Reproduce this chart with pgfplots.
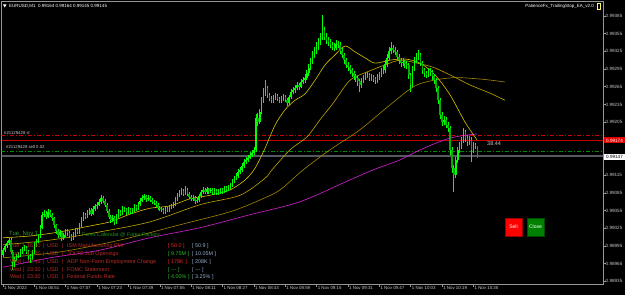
\documentclass[border=0pt]{standalone}
\usepackage{pgfplots}
\pgfplotsset{compat=1.18}
\usepackage{pgfplotstable}
\usepackage{fontspec}
\setmainfont{Liberation Sans}
\definecolor{bull}{RGB}{0,255,0}
\definecolor{bear}{RGB}{0,175,0}
\definecolor{maF}{RGB}{215,195,0}
\definecolor{maM}{RGB}{190,165,0}
\definecolor{maS}{RGB}{160,135,0}
\definecolor{maP}{RGB}{190,30,190}
\definecolor{axgray}{RGB}{150,150,150}
\definecolor{lblgray}{RGB}{200,200,200}
\definecolor{calred}{RGB}{190,45,40}
\definecolor{valred}{RGB}{235,40,40}
\definecolor{valgreen}{RGB}{40,190,40}
\definecolor{valgray}{RGB}{150,170,200}
\definecolor{calgreen}{RGB}{60,150,50}
\definecolor{slred}{RGB}{200,0,0}
\definecolor{opgreen}{RGB}{0,140,0}
\definecolor{bidgray}{RGB}{85,88,95}
\pgfplotstableread{
i o h l c
0 0.98980 0.98992 0.98976 0.98988
1 0.98988 0.98999 0.98985 0.98995
2 0.98995 0.99004 0.98992 0.99000
3 0.99000 0.99009 0.98996 0.99005
4 0.99005 0.99008 0.98981 0.98985
5 0.98985 0.98988 0.98955 0.98968
6 0.98968 0.98976 0.98960 0.98972
7 0.98972 0.98982 0.98969 0.98978
8 0.98978 0.98985 0.98974 0.98980
9 0.98980 0.98990 0.98977 0.98986
10 0.98986 0.98994 0.98982 0.98990
11 0.98990 0.98997 0.98986 0.98992
12 0.98992 0.98995 0.98981 0.98985
13 0.98985 0.98988 0.98972 0.98978
14 0.98978 0.98982 0.98966 0.98975
15 0.98975 0.98988 0.98971 0.98985
16 0.98985 0.99001 0.98982 0.98997
17 0.98997 0.99007 0.98994 0.99003
18 0.99003 0.99016 0.99000 0.99012
19 0.99012 0.99030 0.99009 0.99026
20 0.99026 0.99053 0.99023 0.99048
21 0.99048 0.99056 0.99044 0.99050
22 0.99050 0.99054 0.99041 0.99045
23 0.99045 0.99058 0.99042 0.99053
24 0.99053 0.99056 0.99044 0.99048
25 0.99048 0.99051 0.99038 0.99042
26 0.99042 0.99045 0.99026 0.99030
27 0.99030 0.99033 0.99016 0.99020
28 0.99020 0.99024 0.99008 0.99014
29 0.99014 0.99022 0.99010 0.99018
30 0.99018 0.99021 0.99004 0.99009
31 0.99009 0.99017 0.99005 0.99013
32 0.99013 0.99024 0.99010 0.99020
33 0.99020 0.99024 0.99012 0.99017
34 0.99017 0.99020 0.99008 0.99012
35 0.99012 0.99015 0.99003 0.99009
36 0.99009 0.99018 0.99006 0.99014
37 0.99014 0.99026 0.99011 0.99022
38 0.99022 0.99025 0.99015 0.99019
39 0.99019 0.99034 0.99016 0.99030
40 0.99030 0.99044 0.99027 0.99040
41 0.99040 0.99052 0.99037 0.99048
42 0.99048 0.99051 0.99041 0.99045
43 0.99045 0.99056 0.99042 0.99052
44 0.99052 0.99060 0.99048 0.99056
45 0.99056 0.99059 0.99046 0.99050
46 0.99050 0.99062 0.99047 0.99058
47 0.99058 0.99066 0.99055 0.99062
48 0.99062 0.99070 0.99058 0.99065
49 0.99065 0.99075 0.99062 0.99070
50 0.99070 0.99082 0.99067 0.99076
51 0.99076 0.99079 0.99068 0.99072
52 0.99072 0.99075 0.99061 0.99065
53 0.99065 0.99068 0.99051 0.99055
54 0.99055 0.99058 0.99041 0.99045
55 0.99045 0.99048 0.99034 0.99039
56 0.99039 0.99047 0.99035 0.99043
57 0.99043 0.99046 0.99031 0.99036
58 0.99036 0.99049 0.99033 0.99045
59 0.99045 0.99057 0.99042 0.99053
60 0.99053 0.99056 0.99046 0.99050
61 0.99050 0.99062 0.99047 0.99058
62 0.99058 0.99061 0.99052 0.99056
63 0.99056 0.99059 0.99048 0.99052
64 0.99052 0.99061 0.99049 0.99057
65 0.99057 0.99060 0.99049 0.99053
66 0.99053 0.99059 0.99050 0.99055
67 0.99055 0.99066 0.99052 0.99062
68 0.99062 0.99065 0.99055 0.99059
69 0.99059 0.99070 0.99056 0.99066
70 0.99066 0.99076 0.99063 0.99072
71 0.99072 0.99081 0.99069 0.99076
72 0.99076 0.99084 0.99073 0.99079
73 0.99079 0.99082 0.99070 0.99074
74 0.99074 0.99081 0.99071 0.99077
75 0.99077 0.99080 0.99069 0.99073
76 0.99073 0.99076 0.99066 0.99070
77 0.99070 0.99073 0.99064 0.99068
78 0.99068 0.99071 0.99061 0.99065
79 0.99065 0.99068 0.99056 0.99060
80 0.99060 0.99063 0.99054 0.99058
81 0.99058 0.99061 0.99052 0.99056
82 0.99056 0.99059 0.99049 0.99053
83 0.99053 0.99062 0.99050 0.99058
84 0.99058 0.99061 0.99052 0.99056
85 0.99056 0.99064 0.99053 0.99060
86 0.99060 0.99066 0.99057 0.99062
87 0.99062 0.99069 0.99059 0.99065
88 0.99065 0.99078 0.99062 0.99074
89 0.99074 0.99085 0.99071 0.99081
90 0.99081 0.99090 0.99078 0.99085
91 0.99085 0.99093 0.99082 0.99088
92 0.99088 0.99091 0.99080 0.99084
93 0.99084 0.99096 0.99081 0.99090
94 0.99090 0.99093 0.99079 0.99083
95 0.99083 0.99086 0.99074 0.99078
96 0.99078 0.99081 0.99071 0.99075
97 0.99075 0.99081 0.99072 0.99077
98 0.99077 0.99080 0.99067 0.99071
99 0.99071 0.99077 0.99068 0.99073
100 0.99073 0.99084 0.99070 0.99080
101 0.99080 0.99090 0.99077 0.99086
102 0.99086 0.99095 0.99083 0.99090
103 0.99090 0.99093 0.99083 0.99087
104 0.99087 0.99095 0.99084 0.99091
105 0.99091 0.99094 0.99084 0.99088
106 0.99088 0.99094 0.99085 0.99090
107 0.99090 0.99093 0.99082 0.99086
108 0.99086 0.99093 0.99083 0.99089
109 0.99089 0.99092 0.99081 0.99085
110 0.99085 0.99091 0.99082 0.99087
111 0.99087 0.99094 0.99084 0.99090
112 0.99090 0.99093 0.99084 0.99088
113 0.99088 0.99097 0.99085 0.99093
114 0.99093 0.99096 0.99087 0.99091
115 0.99091 0.99099 0.99088 0.99095
116 0.99095 0.99102 0.99092 0.99098
117 0.99098 0.99108 0.99095 0.99104
118 0.99104 0.99114 0.99101 0.99110
119 0.99110 0.99119 0.99107 0.99114
120 0.99114 0.99125 0.99111 0.99120
121 0.99120 0.99129 0.99117 0.99124
122 0.99124 0.99135 0.99121 0.99130
123 0.99130 0.99142 0.99127 0.99137
124 0.99137 0.99146 0.99134 0.99141
125 0.99141 0.99150 0.99138 0.99145
126 0.99145 0.99154 0.99142 0.99149
127 0.99149 0.99158 0.99146 0.99153
128 0.99153 0.99163 0.99150 0.99158
129 0.99158 0.99218 0.99155 0.99212
130 0.99212 0.99220 0.99198 0.99205
131 0.99205 0.99228 0.99202 0.99222
132 0.99222 0.99248 0.99218 0.99242
133 0.99242 0.99262 0.99238 0.99255
134 0.99255 0.99276 0.99250 0.99263
135 0.99263 0.99266 0.99246 0.99251
136 0.99251 0.99255 0.99240 0.99245
137 0.99245 0.99250 0.99237 0.99242
138 0.99242 0.99251 0.99238 0.99246
139 0.99246 0.99254 0.99242 0.99249
140 0.99249 0.99252 0.99240 0.99244
141 0.99244 0.99248 0.99237 0.99242
142 0.99242 0.99250 0.99238 0.99245
143 0.99245 0.99253 0.99241 0.99248
144 0.99248 0.99251 0.99239 0.99243
145 0.99243 0.99246 0.99232 0.99237
146 0.99237 0.99251 0.99234 0.99247
147 0.99247 0.99261 0.99244 0.99256
148 0.99256 0.99264 0.99252 0.99259
149 0.99259 0.99268 0.99255 0.99263
150 0.99263 0.99273 0.99259 0.99268
151 0.99268 0.99272 0.99260 0.99265
152 0.99265 0.99278 0.99262 0.99273
153 0.99273 0.99281 0.99269 0.99276
154 0.99276 0.99286 0.99272 0.99280
155 0.99280 0.99294 0.99276 0.99288
156 0.99288 0.99303 0.99284 0.99297
157 0.99297 0.99314 0.99293 0.99308
158 0.99308 0.99326 0.99304 0.99319
159 0.99319 0.99333 0.99314 0.99326
160 0.99326 0.99340 0.99321 0.99332
161 0.99332 0.99347 0.99327 0.99340
162 0.99340 0.99356 0.99335 0.99348
163 0.99348 0.99387 0.99344 0.99361
164 0.99361 0.99366 0.99345 0.99350
165 0.99350 0.99356 0.99338 0.99344
166 0.99344 0.99349 0.99334 0.99340
167 0.99340 0.99346 0.99330 0.99336
168 0.99336 0.99341 0.99327 0.99333
169 0.99333 0.99339 0.99325 0.99331
170 0.99331 0.99344 0.99327 0.99338
171 0.99338 0.99343 0.99330 0.99336
172 0.99336 0.99340 0.99321 0.99326
173 0.99326 0.99330 0.99313 0.99319
174 0.99319 0.99323 0.99304 0.99310
175 0.99310 0.99314 0.99296 0.99302
176 0.99302 0.99307 0.99292 0.99298
177 0.99298 0.99302 0.99287 0.99293
178 0.99293 0.99297 0.99282 0.99288
179 0.99288 0.99292 0.99277 0.99283
180 0.99283 0.99287 0.99273 0.99280
181 0.99280 0.99284 0.99266 0.99274
182 0.99274 0.99278 0.99256 0.99268
183 0.99268 0.99280 0.99263 0.99275
184 0.99275 0.99285 0.99271 0.99280
185 0.99280 0.99288 0.99276 0.99283
186 0.99283 0.99290 0.99279 0.99285
187 0.99285 0.99288 0.99274 0.99279
188 0.99279 0.99286 0.99275 0.99281
189 0.99281 0.99285 0.99273 0.99278
190 0.99278 0.99282 0.99270 0.99276
191 0.99276 0.99286 0.99272 0.99281
192 0.99281 0.99290 0.99277 0.99285
193 0.99285 0.99296 0.99281 0.99290
194 0.99290 0.99300 0.99286 0.99293
195 0.99293 0.99310 0.99289 0.99303
196 0.99303 0.99321 0.99299 0.99314
197 0.99314 0.99332 0.99310 0.99325
198 0.99325 0.99340 0.99320 0.99331
199 0.99331 0.99336 0.99322 0.99328
200 0.99328 0.99333 0.99318 0.99324
201 0.99324 0.99328 0.99311 0.99316
202 0.99316 0.99320 0.99304 0.99310
203 0.99310 0.99314 0.99299 0.99305
204 0.99305 0.99313 0.99300 0.99307
205 0.99307 0.99311 0.99297 0.99303
206 0.99303 0.99308 0.99295 0.99302
207 0.99302 0.99306 0.99278 0.99285
208 0.99285 0.99289 0.99256 0.99268
209 0.99268 0.99300 0.99264 0.99295
210 0.99295 0.99316 0.99291 0.99310
211 0.99310 0.99322 0.99305 0.99316
212 0.99316 0.99327 0.99311 0.99319
213 0.99319 0.99323 0.99300 0.99305
214 0.99305 0.99309 0.99287 0.99293
215 0.99293 0.99297 0.99282 0.99288
216 0.99288 0.99292 0.99279 0.99285
217 0.99285 0.99296 0.99281 0.99291
218 0.99291 0.99296 0.99284 0.99290
219 0.99290 0.99294 0.99277 0.99283
220 0.99283 0.99287 0.99270 0.99276
221 0.99276 0.99280 0.99256 0.99262
222 0.99262 0.99266 0.99236 0.99242
223 0.99242 0.99246 0.99210 0.99217
224 0.99217 0.99222 0.99198 0.99205
225 0.99205 0.99215 0.99200 0.99209
226 0.99209 0.99213 0.99195 0.99200
227 0.99200 0.99205 0.99189 0.99195
228 0.99195 0.99199 0.99150 0.99158
229 0.99158 0.99162 0.99118 0.99127
230 0.99127 0.99132 0.99087 0.99115
231 0.99115 0.99146 0.99110 0.99141
232 0.99141 0.99163 0.99136 0.99158
233 0.99158 0.99171 0.99152 0.99166
234 0.99166 0.99180 0.99160 0.99175
235 0.99175 0.99195 0.99170 0.99188
236 0.99188 0.99192 0.99172 0.99178
237 0.99178 0.99183 0.99165 0.99171
238 0.99171 0.99181 0.99167 0.99175
239 0.99175 0.99179 0.99137 0.99158
240 0.99158 0.99171 0.99153 0.99166
241 0.99166 0.99170 0.99159 0.99164
242 0.99164 0.99164 0.99145 0.99145
}\candles
\begin{document}
\begin{tikzpicture}
\useasboundingbox (0,0) rectangle (625pt,295pt);
\fill[black] (0,0) rectangle (625pt,295pt);
\begin{axis}[
  at={(1.5pt,11pt)}, anchor=south west, scale only axis,
  width=601.5pt, height=283pt,
  xmin=-0.77, xmax=306.1, ymin=0.989306, ymax=0.994103,
  axis line style={draw=axgray, line width=0.6pt},
  tick align=outside,
  xtick pos=bottom, ytick pos=right, yticklabel pos=right,
  xtick={0,16,32,48,64,80,96,112,128,144,160,176,192,208,224,240},
  xticklabels={1 Nov 2022, 1 Nov 06:51, 1 Nov 07:07, 1 Nov 07:23, 1 Nov 07:39, 1 Nov 07:55, 1 Nov 08:11, 1 Nov 08:27, 1 Nov 08:43, 1 Nov 08:59, 1 Nov 09:15, 1 Nov 09:31, 1 Nov 09:47, 1 Nov 10:03, 1 Nov 10:19, 1 Nov 10:35},
  ytick={0.98935,0.98965,0.98995,0.99025,0.99055,0.99085,0.99115,0.99145,0.99175,0.99205,0.99235,0.99265,0.99295,0.99325,0.99355,0.99385},
  yticklabels={0.98935,0.98965,0.98995,0.99025,0.99055,0.99085,0.99115,,,0.99205,0.99235,0.99265,0.99295,0.99325,0.99355,0.99385},
  major tick length=3pt,
  tick style={axgray, line width=0.5pt},
  xticklabel style={font=\fontsize{4.4}{5}\selectfont, text=lblgray, anchor=north west, xshift=0.5pt, yshift=1pt, inner sep=0.5pt},
  yticklabel style={font=\fontsize{4.6}{5}\selectfont, text=lblgray, anchor=west, xshift=-1pt, inner sep=0.5pt},
  clip=true,
]
% horizontal order lines
\addplot[draw=slred, line width=0.9pt, dash pattern=on 4pt off 2pt on 1pt off 2pt] coordinates {(-1,0.99182) (307,0.99182)};
\addplot[draw=slred, line width=0.7pt] coordinates {(-1,0.99174) (307,0.99174)};
\addplot[draw=opgreen, line width=0.9pt, dash pattern=on 4pt off 2pt on 1pt off 2pt] coordinates {(-1,0.99156) (307,0.99156)};
\addplot[draw=bidgray, line width=1.8pt] coordinates {(-1,0.99147) (307,0.99147)};
% moving averages
\addplot[maP, line width=0.7pt, smooth] coordinates {(0,0.98959) (24,0.98975) (49.5,0.98988) (75,0.99009) (100.5,0.99026) (126,0.99048) (151.5,0.99070) (177,0.99107) (188.8,0.99124) (202.6,0.99141) (212.8,0.99158) (228.1,0.99178) (241.8,0.99185)};
\addplot[maS, line width=0.6pt, smooth] coordinates {(0,0.98975) (29.1,0.98985) (59.7,0.99005) (90.3,0.99031) (115.8,0.99053) (131.1,0.99073) (141.3,0.99090) (153.1,0.99124) (166.8,0.99158) (182.1,0.99192) (197.4,0.99234) (211.2,0.99268) (228.1,0.99280) (243.4,0.99278) (256.1,0.99273)};
\addplot[maM, line width=0.6pt, smooth] coordinates {(0,0.98997) (24,0.99005) (49.5,0.99019) (75,0.99036) (100.5,0.99065) (120.9,0.99081) (133.7,0.99110) (137.2,0.99124) (146.4,0.99158) (155.1,0.99180) (161.7,0.99209) (168.4,0.99237) (177,0.99276) (185.7,0.99290) (194.9,0.99302) (202.6,0.99310) (211.2,0.99305) (219.4,0.99298) (228.1,0.99285) (238.3,0.99268) (248.5,0.99254) (256.1,0.99242)};
\addplot[maF, line width=0.6pt, smooth] coordinates {(0,0.99009) (13.8,0.99012) (29.1,0.99019) (44.4,0.99029) (54.6,0.99036) (64.8,0.99049) (75,0.99059) (85.2,0.99063) (95.4,0.99075) (105.6,0.99081) (115.8,0.99090) (123.5,0.99107) (128.6,0.99127) (133.7,0.99161) (138.8,0.99200) (143.9,0.99226) (149,0.99242) (154.1,0.99253) (159.2,0.99276) (164.3,0.99302) (169.4,0.99319) (174.5,0.99334) (179.6,0.99324) (184.7,0.99314) (189.8,0.99305) (197.4,0.99310) (205.1,0.99312) (212.8,0.99305) (220.4,0.99285) (228.1,0.99251) (235.7,0.99205) (241.8,0.99175)};
% candles: wicks (low to high)
\addplot[draw=bull, line width=0.7pt, -, quiver={u=0, v=\thisrow{h}-\thisrow{l}, every arrow/.append style={-}}]
  table[x=i, y=l] {\candles};
% bodies: bull (open to close)
\addplot[draw=bull, line width=1.5pt, -, quiver={u=0, v={max(\thisrow{c}-\thisrow{o},0)}, every arrow/.append style={-}}]
  table[x=i, y=o] {\candles};
% bodies: bear (close to open)
\addplot[draw=bear, line width=1.5pt, -, quiver={u=0, v={max(\thisrow{o}-\thisrow{c},0)}, every arrow/.append style={-}}]
  table[x=i, y=c] {\candles};
\end{axis}
\begin{scope}[x=1pt, y=-1pt, shift={(0pt,295pt)}]
% header
\fill[white] (3,4.5) -- (6.5,4.5) -- (4.75,7.5) -- cycle;
\node[anchor=west, inner sep=0, text=white, font=\fontsize{4.5}{5}\selectfont] at (9,6) {EURUSD,M1\ \ 0.99164 0.99164 0.99145 0.99145};
\node[anchor=east, inner sep=0, text=white, font=\fontsize{4.5}{5}\selectfont] at (594,6) {PatienceFx\_TrailingStop\_EA\_v2.0};
\draw[yellow!60!white, line width=0.4pt] (597,3) rectangle (600,9);
% price boxes
\fill[red!90!black] (603.5,137.5) rectangle (625,143.5);
\node[text=white, inner sep=0, font=\fontsize{4.6}{5}\selectfont] at (614.5,140.5) {0.99174};
\fill[white] (603.5,154) rectangle (625,160);
\node[text=black, inner sep=0, font=\fontsize{4.6}{5}\selectfont] at (614.5,157) {0.99147};
% order labels
\node[anchor=west, inner sep=0, text=lblgray, font=\fontsize{4.3}{5}\selectfont] at (4,132.5) {\#21129428 sl};
\node[anchor=west, inner sep=0, text=lblgray, font=\fontsize{4.3}{5}\selectfont] at (6,147) {\#21129428 sell 0.02};
\node[anchor=west, inner sep=0, text=lblgray, font=\fontsize{5.5}{6}\selectfont] at (487,144) {38.44};
% buttons
\fill[red] (505,218) rectangle (522,236);
\draw[red!60!black, line width=0.4pt] (505,218) rectangle (522,236);
\node[text=white, font=\fontsize{5}{6}\selectfont] at (513.5,227) {Sell};
\fill[green!50!black] (527,218) rectangle (544,236);
\draw[green!30!black, line width=0.4pt] (527,218) rectangle (544,236);
\node[text=white, font=\fontsize{5}{6}\selectfont] at (535.5,227) {Close};
% calendar
\node[anchor=west, inner sep=0, text=calgreen, font=\fontsize{6}{7}\selectfont] at (9,234) {Tue, Nov 1};
\node[anchor=west, inner sep=0, text=valgreen!80!black, font=\fontsize{5.3}{6}\selectfont] at (82,235) {Forex Calendar @ Forex Factory};
\foreach \yy/\dd/\tt/\ev in {246/Tue/16:30/ISM Manufacturing PMI, 254/Tue/17:30/JOLTS Job Openings, 262/Wed/17:45/ADP Non-Farm Employment Change, 270/Wed/23:30/FOMC Statement, 277/Wed/23:30/Federal Funds Rate}{
  \node[anchor=west, inner sep=0, text=calred, font=\fontsize{5.4}{6}\selectfont] at (10,\yy) {\dd};
  \node[anchor=west, inner sep=0, text=calred, font=\fontsize{5.4}{6}\selectfont] at (23,\yy) {|};
  \node[anchor=west, inner sep=0, text=calred, font=\fontsize{5.4}{6}\selectfont] at (27,\yy) {\tt};
  \node[anchor=west, inner sep=0, text=calred, font=\fontsize{5.4}{6}\selectfont] at (43,\yy) {|};
  \node[anchor=west, inner sep=0, text=calred, font=\fontsize{5.4}{6}\selectfont] at (47,\yy) {USD};
  \node[anchor=west, inner sep=0, text=calred, font=\fontsize{5.4}{6}\selectfont] at (62,\yy) {|};
  \node[anchor=west, inner sep=0, text=calred, font=\fontsize{5.4}{6}\selectfont] at (67,\yy) {\ev};
}
\node[anchor=west, inner sep=0, text=valred, font=\fontsize{5.4}{6}\selectfont] at (168,246) {[ 50.0 ]};
\node[anchor=west, inner sep=0, text=valgray, font=\fontsize{5.4}{6}\selectfont] at (192,246) {[ 50.9 ]};
\node[anchor=west, inner sep=0, text=valgreen, font=\fontsize{5.4}{6}\selectfont] at (168,254) {[ 9.75M ]};
\node[anchor=west, inner sep=0, text=valgray, font=\fontsize{5.4}{6}\selectfont] at (192,254) {[ 10.05M ]};
\node[anchor=west, inner sep=0, text=valred, font=\fontsize{5.4}{6}\selectfont] at (168,262) {[ 178K ]};
\node[anchor=west, inner sep=0, text=valgray, font=\fontsize{5.4}{6}\selectfont] at (192,262) {[ 208K ]};
\node[anchor=west, inner sep=0, text=valgreen, font=\fontsize{5.4}{6}\selectfont] at (168,270) {[ {-}{-}{-} ]};
\node[anchor=west, inner sep=0, text=valgray, font=\fontsize{5.4}{6}\selectfont] at (192,270) {[ {-}{-}{-} ]};
\node[anchor=west, inner sep=0, text=valgreen, font=\fontsize{5.4}{6}\selectfont] at (168,277) {[ 4.00\% ]};
\node[anchor=west, inner sep=0, text=valgray, font=\fontsize{5.4}{6}\selectfont] at (192,277) {[ 3.25\% ]};
\end{scope}
\end{tikzpicture}
\end{document}
